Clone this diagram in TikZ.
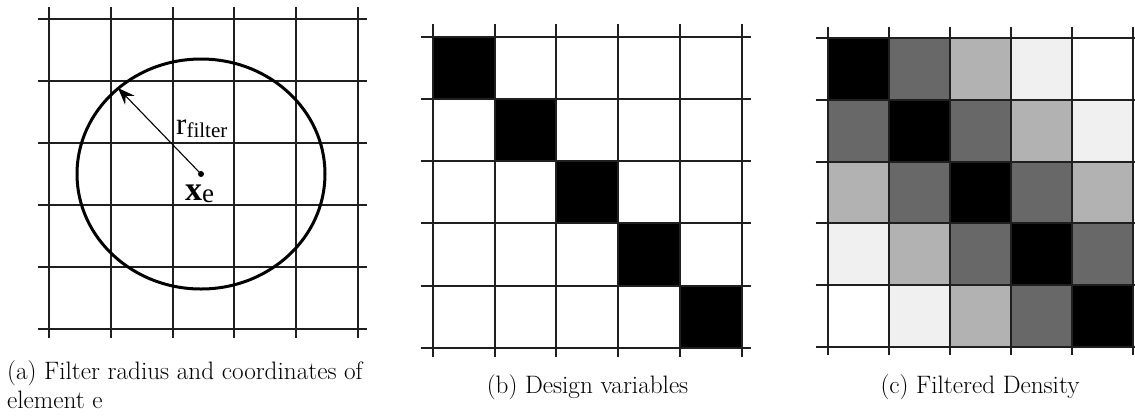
\documentclass[tikz,border=0pt]{standalone}
\usepackage{fontspec}
\newfontfamily\tnr{Liberation Serif}
\usetikzlibrary{arrows.meta}
\definecolor{gA}{RGB}{104,104,104}
\definecolor{gB}{RGB}{178,178,178}
\definecolor{gC}{RGB}{240,240,240}
\begin{document}
\begin{tikzpicture}[x=1pt,y=-1pt,
  gridline/.style={line width=2pt, draw=black!88},
  caption/.style={inner sep=0pt, font=\fontsize{25.2}{30}\selectfont},
  lbl/.style={inner sep=0pt}]
\useasboundingbox (0,0) rectangle (1135,416);

% ---------- panel (a) ----------
\foreach \i in {0,...,5} {
  \draw[gridline] ({49+61.8*\i},7) -- ({49+61.8*\i},338);
  \draw[gridline] (38,{19+62*\i}) -- (367,{19+62*\i});
}
\coordinate (xe) at (201,174);
\coordinate (rtip) at (118,88);
\draw[line width=3pt] (xe) ellipse [x radius=124pt, y radius=115pt];
\draw[line width=1.1pt, -{Stealth[length=17pt,width=13pt,inset=6pt]}] (xe) -- (rtip);
\fill (xe) circle (3pt);
\node[lbl, anchor=base west] (rf) at (176,134) {\tnr\fontsize{31}{31}\selectfont r\raisebox{-3pt}{\fontsize{21}{21}\selectfont filter}};
\node[lbl, anchor=base west] (xl) at (185,200) {\tnr\bfseries\fontsize{34}{34}\selectfont x\raisebox{-2pt}{\mdseries\fontsize{27}{27}\selectfont e}};

% ---------- panel (b) ----------
\foreach \k in {0,...,4} {
  \fill[black] ({432.7+61.8*\k},{36.7+62.2*\k}) rectangle ({432.7+61.8*(\k+1)},{36.7+62.2*(\k+1)});
}
\foreach \i in {0,...,5} {
  \draw[gridline] ({432.7+61.8*\i},24) -- ({432.7+61.8*\i},356.7);
  \draw[gridline] (420.7,{36.7+62.2*\i}) -- (750.7,{36.7+62.2*\i});
}

% ---------- panel (c) ----------
\foreach \r in {0,...,4} {
  \foreach \c in {0,...,4} {
    \pgfmathtruncatemacro{\d}{abs(\r-\c)}
    \ifcase\d \def\cc{black}\or \def\cc{gA}\or \def\cc{gB}\or \def\cc{gC}\else \def\cc{white}\fi
    \fill[\cc] ({827.7+61.1*\c},{38.3+61.7*\r}) rectangle ({827.7+61.1*(\c+1)},{38.3+61.7*(\r+1)});
  }
}
\foreach \i in {0,...,5} {
  \draw[gridline] ({827.7+61.1*\i},26.7) -- ({827.7+61.1*\i},355);
  \draw[gridline] (815.7,{38.3+61.7*\i}) -- (1135,{38.3+61.7*\i});
}

% ---------- captions ----------
\node[caption, anchor=base west] (capa1) at (7,379) {(a) Filter radius and coordinates of};
\node[caption, anchor=base west] (capa2) at (7,408) {element e};
\node[caption, anchor=base] (capb) at (587.5,393) {(b) Design variables};
\node[caption, anchor=base] (capc) at (980,393) {(c) Filtered Density};
\end{tikzpicture}
\end{document}
